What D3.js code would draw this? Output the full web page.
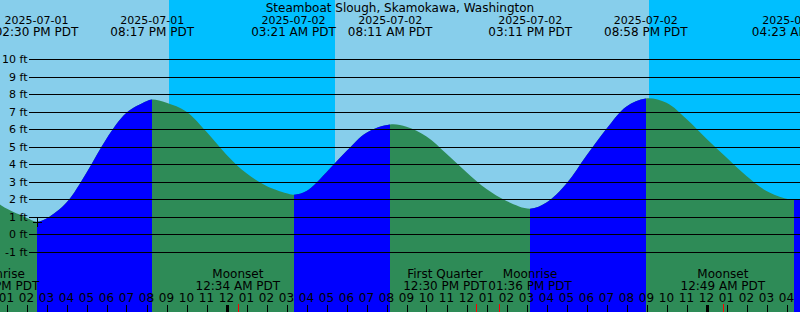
<!DOCTYPE html>
<html>
<head>
<meta charset="utf-8">
<script src="https://cdn.jsdelivr.net/npm/d3@7"></script>
<style>
  html, body { margin: 0; padding: 0; background: #fff; }
  svg { display: block; font-family: "DejaVu Sans", sans-serif; }
</style>
</head>
<body>
<svg id="chart"></svg>
<script>
'use strict';

var title = "Steamboat Slough, Skamokawa, Washington";

// visible time window (local PDT clock, kept as UTC so the browser zone does not matter)
var viewStart = "2025-07-01 12:40:30";
var viewEnd = "2025-07-03 04:40:30";

// tide height, feet
var tideTimes = [
    "2025-07-01 12:40", "2025-07-01 13:00", "2025-07-01 14:00", "2025-07-01 15:00",
    "2025-07-01 16:00", "2025-07-01 17:00", "2025-07-01 18:00", "2025-07-01 19:00",
    "2025-07-01 20:00", "2025-07-01 21:00", "2025-07-01 22:00", "2025-07-01 23:00",
    "2025-07-02 00:00", "2025-07-02 01:00", "2025-07-02 02:00", "2025-07-02 03:00",
    "2025-07-02 04:00", "2025-07-02 05:00", "2025-07-02 06:00", "2025-07-02 07:00",
    "2025-07-02 09:00", "2025-07-02 10:00", "2025-07-02 11:00",
    "2025-07-02 12:00", "2025-07-02 13:00", "2025-07-02 14:00",
    "2025-07-02 16:00", "2025-07-02 17:00", "2025-07-02 18:00", "2025-07-02 19:00",
    "2025-07-02 20:00", "2025-07-02 22:00", "2025-07-02 23:00",
    "2025-07-03 00:00", "2025-07-03 01:00", "2025-07-03 02:00", "2025-07-03 03:00",
    "2025-07-03 04:00", "2025-07-03 04:41"
];
var tideFeet = [
    1.71, 1.47, 0.95, 0.90,
    1.81, 3.52, 5.46, 6.94,
    7.60, 7.51, 7.00, 5.85,
    4.55, 3.48, 2.76, 2.34,
    2.47, 3.55, 4.75, 5.80,
    6.14, 5.58, 4.60,
    3.55, 2.58, 1.90,
    1.81, 2.90, 4.50, 6.03,
    7.30, 7.51, 6.58,
    5.45, 4.38, 3.33, 2.47,
    2.03, 1.99
];

// high and low waters
var extremeTimes = ["2025-07-01 14:30", "2025-07-01 20:17", "2025-07-02 03:21", "2025-07-02 08:11",
                    "2025-07-02 15:11", "2025-07-02 20:58", "2025-07-03 04:23"];
var extremeFeet = [0.72, 7.70, 2.26, 6.27, 1.46, 7.76, 1.98];
var extremeKind = ["low", "high", "low", "high", "low", "high", "low"];

var sunsetTimes = ["2025-07-01 21:08", "2025-07-02 21:07"];
var sunriseTimes = ["2025-07-02 05:25", "2025-07-03 05:26"];

var moonNames = ["Moonrise", "Moonset", "First Quarter", "Moonrise", "Moonset"];
var moonTimes = ["2025-07-01 12:33", "2025-07-02 00:34", "2025-07-02 12:30", "2025-07-02 13:36", "2025-07-03 00:49"];

var ftTicks = [-1, 0, 1, 2, 3, 4, 5, 6, 7, 8, 9, 10];

var parseSec = d3.utcParse("%Y-%m-%d %H:%M:%S");
var parseMin = d3.utcParse("%Y-%m-%d %H:%M");
function parse(s) { return parseSec(s) || parseMin(s); }

var fmtDate = d3.utcFormat("%Y-%m-%d");
var fmtTime = d3.utcFormat("%I:%M %p PDT");
var fmtHour = d3.utcFormat("%I");

var svgWidth = 800,
    svgHeight = 312;

var svg = d3.select('#chart')
    .attr("width", svgWidth)
    .attr("height", svgHeight);

var t0 = parse(viewStart), t1 = parse(viewEnd);

var x = d3.scaleUtc().domain([t0, t1]).range([0, svgWidth]);
var y = d3.scaleLinear().domain([-1, 10]).range([251.8, 59.2]);
var yGrid = d3.scaleLinear().domain([-1, 10]).range([252, 59]).interpolate(d3.interpolateRound);

// day / night
svg.append("rect")
    .attr("width", svgWidth)
    .attr("height", svgHeight)
    .attr("fill", "#87ceeb");

svg.selectAll(".night")
    .data(sunsetTimes)
    .enter().append("rect")
    .attr("class", "night")
    .attr("x", function (d) { return Math.round(x(parse(d))) })
    .attr("y", 0)
    .attr("width", function (d, i) {
        var a = Math.round(x(parse(d)));
        var b = Math.min(svgWidth, Math.round(x(parse(sunriseTimes[i]))));
        return b - a;
    })
    .attr("height", svgHeight)
    .attr("fill", "#00bfff");

// tide curve
var tide = tideTimes.map(function (d, i) { return { t: parse(d), h: tideFeet[i] } })
    .concat(extremeTimes.map(function (d, i) { return { t: parse(d), h: extremeFeet[i] } }))
    .sort(function (a, b) { return a.t - b.t });

var area = d3.area()
    .x(function (d) { return x(d.t) })
    .y0(svgHeight)
    .y1(function (d) { return y(d.h) })
    .curve(d3.curveCatmullRom.alpha(0.5));

svg.append("path")
    .datum(tide)
    .attr("fill", "#2e8b57")
    .attr("d", area);

// rising stretches go blue
var bounds = [t0].concat(extremeTimes.map(parse), [t1]);
var defs = svg.append("defs");
for (let i = 0; i < bounds.length - 1; ++i) {
    var rising = i < extremeKind.length ? extremeKind[i] === "high"
        : extremeKind[extremeKind.length - 1] === "low";
    if (!rising) continue;
    var a = Math.round(x(bounds[i])), b = Math.round(x(bounds[i + 1]));
    defs.append("clipPath").attr("id", "rise" + i)
        .append("rect")
        .attr("x", a).attr("y", 0)
        .attr("width", b - a).attr("height", svgHeight);
    svg.append("path")
        .datum(tide)
        .attr("fill", "#0000ff")
        .attr("clip-path", "url(#rise" + i + ")")
        .attr("d", area);
}

// feet grid
var gy = svg.append("g")
    .attr("transform", "translate(29,0)")
    .call(d3.axisLeft(yGrid)
        .tickValues(ftTicks)
        .tickSize(-(svgWidth - 29))
        .tickPadding(1.5)
        .tickFormat(function (d) { return d + " ft" }));
gy.select(".domain").remove();
gy.selectAll("line").attr("stroke", "#000");
gy.selectAll("text")
    .attr("fill", "#000")
    .style("font-family", "DejaVu Sans")
    .style("font-size", "11px");

// crosshair on the first low
svg.append("path")
    .attr("d", function () {
        var cx = Math.round(x(parse(extremeTimes[0]))) + 0.5;
        var cy = Math.round(y(extremeFeet[0])) + 0.5;
        return "M" + (cx - 4.5) + "," + cy + "H" + (cx + 4.5) + "M" + cx + "," + (cy - 4.5) + "V" + (cy + 4.5);
    })
    .attr("stroke", "#000")
    .attr("fill", "none");

// header
svg.append("text")
    .attr("x", svgWidth / 2)
    .attr("y", 11.5)
    .attr("text-anchor", "middle")
    .style("font-size", "12px")
    .text(title);

var hdr = svg.selectAll(".hdr")
    .data(extremeTimes)
    .enter().append("g")
    .attr("class", "hdr")
    .attr("transform", function (d) { return "translate(" + x(parse(d)) + ",0)" });
hdr.append("text")
    .attr("y", 23.5)
    .attr("text-anchor", "middle")
    .style("font-size", "11px")
    .text(function (d) { return fmtDate(parse(d)) });
hdr.append("text")
    .attr("y", 35.5)
    .attr("text-anchor", "middle")
    .style("font-size", "12px")
    .text(function (d) { return fmtTime(parse(d)) });

// hour ticks
var hours = x.ticks(d3.utcHour.every(1));
svg.selectAll(".hourTick")
    .data(hours)
    .enter().append("line")
    .attr("class", "hourTick")
    .attr("x1", function (d) { return Math.round(x(d)) + 0.5 })
    .attr("x2", function (d) { return Math.round(x(d)) + 0.5 })
    .attr("y1", 305)
    .attr("y2", svgHeight)
    .attr("stroke", "#000")
    .attr("stroke-width", function (d) { return d.getUTCHours() === 0 ? 3 : 1 });
svg.selectAll(".hourLabel")
    .data(hours)
    .enter().append("text")
    .attr("class", "hourLabel")
    .attr("x", function (d) { return x(d) })
    .attr("y", 302)
    .attr("text-anchor", "middle")
    .style("font-size", "12px")
    .text(function (d) { return fmtHour(d) });

// moon events
svg.selectAll(".moonTick")
    .data(moonTimes)
    .enter().append("line")
    .attr("class", "moonTick")
    .attr("x1", function (d) { return Math.round(x(parse(d))) + 0.5 })
    .attr("x2", function (d) { return Math.round(x(parse(d))) + 0.5 })
    .attr("y1", 304)
    .attr("y2", svgHeight)
    .attr("stroke", "#ff0000");

var moon = svg.selectAll(".moon")
    .data(moonTimes)
    .enter().append("g")
    .attr("class", "moon");
moon.append("text")
    .attr("y", 278)
    .attr("text-anchor", "middle")
    .style("font-size", "12px")
    .text(function (d, i) { return moonNames[i] });
moon.append("text")
    .attr("y", 290)
    .attr("text-anchor", "middle")
    .style("font-size", "12px")
    .text(function (d) { return fmtTime(parse(d)) });

// push overlapping moon labels apart
var spots = [];
moon.each(function (d) {
    var w = 0;
    d3.select(this).selectAll("text").each(function () { w = Math.max(w, this.getComputedTextLength()) });
    spots.push({ cx: x(parse(d)), w: w });
});
for (let i = 1; i < spots.length; ++i) {
    var need = (spots[i - 1].w + spots[i].w) / 2 + 1.5;
    var gap = spots[i].cx - spots[i - 1].cx;
    if (gap < need) {
        spots[i - 1].cx -= (need - gap) / 2;
        spots[i].cx += (need - gap) / 2;
    }
}
moon.attr("transform", function (d, i) { return "translate(" + spots[i].cx + ",0)" });
</script>
</body>
</html>
